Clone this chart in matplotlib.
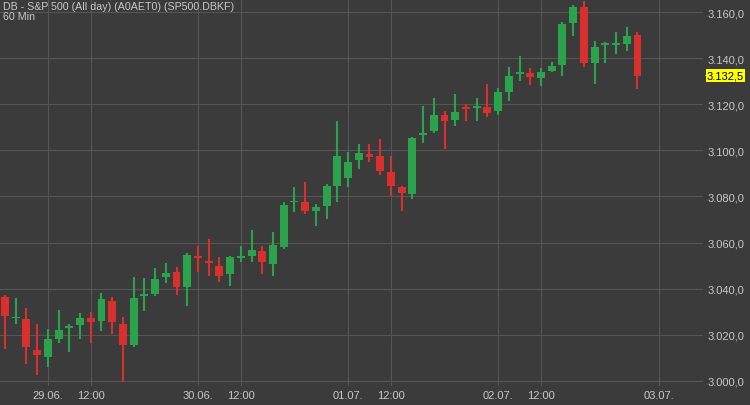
import matplotlib.pyplot as plt
import numpy as np

# Daten (60 Min Kerzen)
opens = [3036.4, 3027.2, 3026.8, 3013.3, 3010.3, 3018.1, 3023.1, 3024.2, 3027.2, 3025.9,
         3034.6, 3024.6, 3015.5, 3037.0, 3037.6, 3045.0, 3047.2, 3040.7, 3054.0, 3051.8,
         3049.8, 3046.3, 3053.5, 3054.2, 3056.3, 3050.7, 3058.1, 3077.4, 3077.6, 3073.7,
         3075.9, 3084.6, 3088.0, 3095.8, 3098.5, 3097.6, 3090.6, 3084.1, 3081.1, 3106.9,
         3108.4, 3115.4, 3113.2, 3118.9, 3118.6, 3118.9, 3117.1, 3125.4, 3133.4, 3133.6,
         3131.5, 3134.5, 3137.1, 3155.3, 3162.3, 3138.0, 3146.0, 3146.0, 3146.2, 3150.1]
highs = [3037.2, 3035.9, 3031.6, 3024.6, 3022.4, 3030.7, 3024.6, 3029.4, 3029.8, 3038.1,
         3036.4, 3027.7, 3045.0, 3044.6, 3048.9, 3051.1, 3049.4, 3055.5, 3058.5, 3061.5,
         3053.7, 3054.2, 3058.5, 3065.4, 3058.5, 3064.6, 3077.6, 3084.1, 3086.3, 3076.7,
         3085.4, 3112.8, 3099.3, 3102.8, 3102.8, 3105.0, 3097.6, 3084.6, 3105.8, 3119.3,
         3122.8, 3117.1, 3124.5, 3120.2, 3122.8, 3128.9, 3127.1, 3136.2, 3141.0, 3135.8,
         3135.8, 3138.4, 3155.8, 3163.2, 3164.9, 3147.5, 3147.1, 3151.4, 3153.6, 3151.4]
lows = [3013.8, 3024.6, 3007.3, 3002.5, 3006.0, 3016.4, 3012.5, 3018.1, 3016.4, 3021.6,
        3020.3, 2999.4, 3014.6, 3030.3, 3036.8, 3042.4, 3037.2, 3032.5, 3047.2, 3045.5,
        3042.9, 3041.1, 3051.5, 3051.5, 3046.3, 3045.5, 3057.2, 3073.3, 3072.4, 3067.2,
        3070.2, 3077.6, 3084.1, 3091.9, 3095.0, 3089.3, 3080.2, 3073.7, 3078.9, 3103.2,
        3107.6, 3100.6, 3110.6, 3112.8, 3112.8, 3114.5, 3115.4, 3121.5, 3130.2, 3128.4,
        3128.0, 3134.1, 3132.3, 3149.7, 3136.2, 3128.9, 3138.0, 3141.9, 3143.2, 3126.5]
closes = [3028.1, 3027.7, 3014.6, 3011.2, 3018.1, 3022.0, 3023.5, 3027.2, 3025.5, 3035.5,
          3025.5, 3015.5, 3035.9, 3037.4, 3044.2, 3046.8, 3040.7, 3054.6, 3053.5, 3051.3,
          3045.5, 3053.7, 3054.0, 3056.8, 3051.5, 3058.9, 3076.3, 3077.8, 3073.7, 3075.4,
          3084.6, 3097.6, 3095.0, 3098.9, 3097.2, 3091.1, 3084.6, 3081.5, 3105.4, 3107.4,
          3115.4, 3112.8, 3116.7, 3118.0, 3119.1, 3116.3, 3125.4, 3132.3, 3134.1, 3131.9,
          3134.1, 3136.7, 3154.9, 3162.3, 3138.0, 3144.9, 3146.4, 3146.4, 3149.7, 3132.5]

tick_pos = [4, 8, 18, 22, 32, 36, 46, 50, 61]
tick_labels = ['29.06.', '12:00', '30.06.', '12:00', '01.07.', '12:00', '02.07.', '12:00', '03.07.']
y_ticks = [3000, 3020, 3040, 3060, 3080, 3100, 3120, 3140, 3160]

bg = '#3b3b3b'
grid_c = '#555555'
text_c = '#c8c8c8'
green = '#2ba24c'
red = '#d9302e'

plt.rcParams['font.family'] = ['Liberation Sans', 'DejaVu Sans']

fig = plt.figure(figsize=(7.5, 4.06), dpi=100, facecolor=bg)
ax = fig.add_axes([0, 1 - 387 / 406, 703 / 750, 387 / 406])
ax.set_facecolor(bg)

x = np.arange(len(opens))
o = np.array(opens)
c = np.array(closes)
cols = [green if cc >= oo else red for oo, cc in zip(o, c)]

# Dochte
ax.vlines(x, lows, highs, colors=cols, linewidth=1.5, zorder=3)
# Körper
bottom = np.minimum(o, c)
height = np.maximum(np.abs(c - o), 0.45)
ax.bar(x, height, bottom=bottom, width=0.74, color=cols, linewidth=0, zorder=4)

ax.set_xlim(-0.466, (703 - 5) / 10.72)
ax.set_ylim(3165.77 - 0.4343 * 387, 3165.77)

ax.set_xticks(tick_pos)
ax.set_xticklabels(tick_labels)
ax.set_yticks(y_ticks)
ax.set_yticklabels([f'{v // 1000}.{v % 1000:03d},0' for v in y_ticks])
ax.yaxis.tick_right()
ax.tick_params(axis='both', length=0, colors=text_c, labelsize=8)
ax.tick_params(axis='y', pad=3)
ax.tick_params(axis='x', pad=3)
ax.grid(True, color=grid_c, linewidth=0.8, zorder=0)
for s in ax.spines.values():
    s.set_visible(False)

# aktueller Kurs
last = closes[-1]
ax.annotate('', xy=(1.0, last), xycoords=('axes fraction', 'data'),
            xytext=(1.0 + 6 / 703, last), textcoords=('axes fraction', 'data'),
            arrowprops=dict(arrowstyle='-', color=text_c, lw=0.8))
ax.text(1.0 + 4 / 703, last, f'{int(last) // 1000}.{int(last) % 1000:03d},{int(round(last * 10)) % 10}',
        transform=ax.get_yaxis_transform(), va='center', ha='left', fontsize=8, color='black',
        bbox=dict(boxstyle='square,pad=0.1', facecolor='#ffff00', edgecolor='none'), zorder=10)

fig.text(3 / 750, 1 - 2 / 406, 'DB - S&P 500 (All day) (A0AET0) (SP500.DBKF)\n60 Min',
         ha='left', va='top', fontsize=7.7, color=text_c, linespacing=1.0)

fig.savefig('out.png', dpi=100, facecolor=bg)
